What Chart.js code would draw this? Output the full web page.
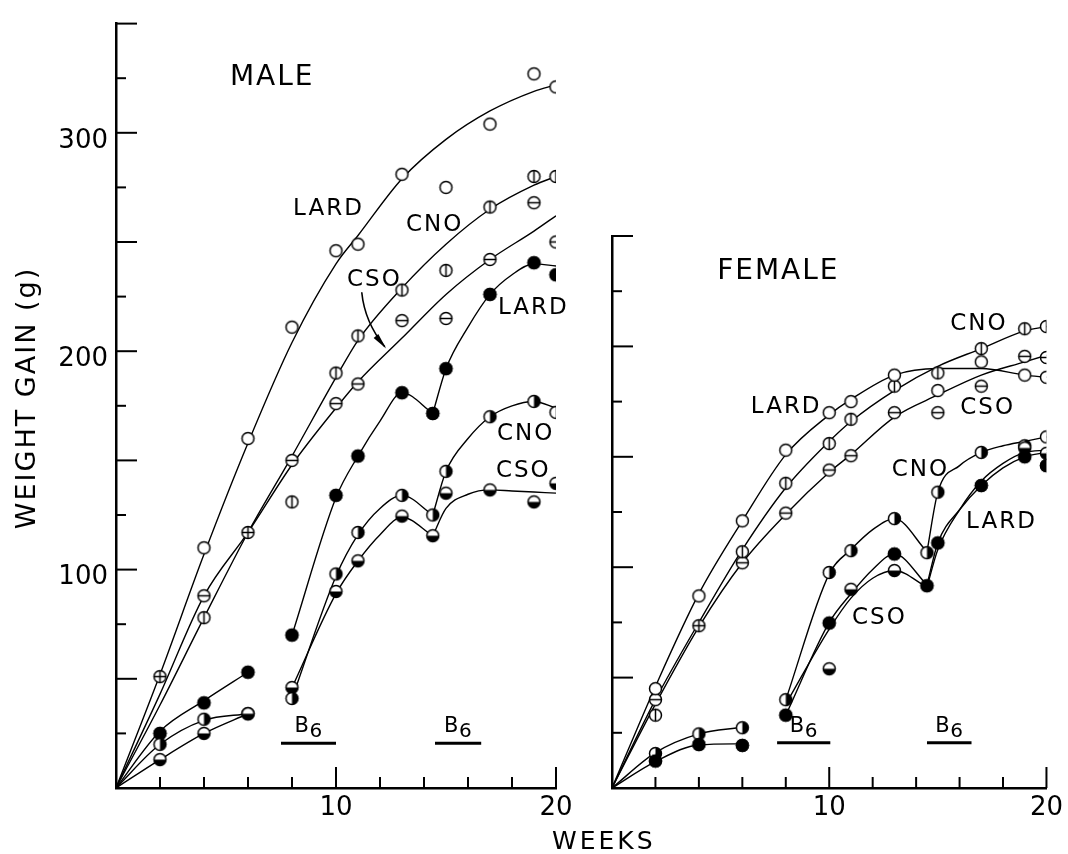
<!DOCTYPE html>
<html>
<head>
<meta charset="utf-8">
<script src="https://cdn.jsdelivr.net/npm/chart.js@4.4.0/dist/chart.umd.min.js"></script>
<style>
  html, body { margin: 0; padding: 0; background: #fff; }
  #wrap { position: relative; width: 1068px; height: 854px; }
  #male { position: absolute; left: 0; top: 0; }
  #female { position: absolute; left: 590px; top: 0; }
</style>
</head>
<body>
<div id="wrap">
  <canvas id="male" width="1068" height="854"></canvas>
  <canvas id="female" width="478" height="854"></canvas>
</div>
<script>
// tick labels
var xTickLabels = ['10', '20'];
var yTickLabels = ['100', '200', '300'];

// ---- MALE ----
// first period, open markers (weeks 2..20)
var m1Weeks = [2, 4, 6, 8, 10, 11, 13, 15, 17, 19, 20];
var m1Lard = [null, 110, 160, 211, 246, 249, 281, 275, 304, 327, 321];
var m1Cno  = [null, 78, null, 131, 190, 207, 228, 237, 266, 280, 280];
var m1Cso  = [null, 88, null, 150, 176, 185, 214, 215, 242, 268, 250];
var m1SharedWeeks = [2, 6];
var m1Shared = [51, 117];
var m1CurveWeeks = [0, 2, 4, 6, 8, 10, 11, 13, 15, 17, 19, 20];
var m1LardCurve = [0, 52, 107, 158, 204, 240, 253, 279, 297, 310, 319, 322];
var m1CnoCurve  = [0, 38, 78, 117, 152, 188, 205, 229, 249, 265, 276, 280];
var m1CsoCurve  = [0, 43, 88, 117, 148, 174, 186, 206, 226, 242, 255, 262];

// deficient period, weeks 2..6
var m0Weeks = [2, 4, 6];
var m0Lard = [25, 39, 53];
var m0Cno  = [20, 31.5, 34];
var m0Cso  = [13, 25, 34];
var m0CurveWeeks = [0, 2, 4, 6];
var m0LardCurve = [0, 26, 40, 53];
var m0CnoCurve  = [0, 20, 31, 34];
var m0CsoCurve  = [0, 13, 25, 34];

// second period, weeks 8..20
var m2Weeks = [8, 10, 11, 13, 14.4, 15, 17, 19, 20];
var m2Lard = [70, 134, 152, 181, 171.5, 192, 226, 240.5, 235];
var m2Cno  = [41, 98, 117, 134, 125, 145, 170, 177, 172];
var m2Cso  = [46, 90, 104, 124.5, 115.5, 135, 136.5, 131, 139.5];
var m2aWeeks = [8, 10, 11, 12, 13, 14.4];
var m2LardA = [70, 133, 152, 168, 181, 171.5];
var m2CnoA  = [41, 97, 116, 128, 134, 125];
var m2CsoA  = [46, 89, 104, 116, 124, 115.5];
var m2bWeeks = [14.4, 15, 16, 17, 18, 19, 20];
var m2LardB = [171.5, 192, 211, 226, 235, 240, 239];
var m2CnoB  = [125, 145, 160, 170, 175, 177, 174];
var m2CsoB  = [115.5, 128, 134.5, 136.5, 136, 135.5, 135];

// ---- FEMALE ----
var f1Weeks = [2, 4, 6, 8, 10, 11, 13, 15, 17, 19, 20];
var f1Lard = [45, 87, 121, 153, 170, 175, 187, 180, 193, 187, 186];
var f1Cno  = [33, null, 107, 138, 156, 167, 182, 188, 199, 208, 209];
var f1Cso  = [40, null, 102, 124.5, 144, 150.5, 170, 170, 182, 195.5, 195];
var f1SharedWeeks = [4];
var f1Shared = [73.5];
var f1CurveWeeks = [0, 2, 4, 6, 8, 10, 11, 13, 15, 17, 19, 20];
var f1LardCurve = [0, 46, 88, 121, 151, 169, 176, 187, 190, 190, 187, 186];
var f1CnoCurve  = [0, 40, 75, 108, 136, 157, 166, 180, 191, 199, 207, 209];
var f1CsoCurve  = [0, 38, 73, 102, 124, 143, 151, 168, 178, 187, 193, 196];

var f0Weeks = [2, 4, 6];
var f0Cno  = [15.6, 24.5, 27.3];
var f0Lard = [12.2, 19.7, 19.3];
var f0CurveWeeks = [0, 2, 4, 6];
var f0CnoCurve  = [0, 16, 24.5, 27.5];
var f0LardCurve = [0, 12, 19.5, 20];

var f2Weeks = [8, 10, 11, 13, 14.5, 15, 17, 19, 20];
var f2Cno  = [40, 97.6, 107.5, 122, 106.6, 134, 152, 155, 159];
var f2Lard = [33, 74.7, null, 106, 91.6, 111, 137, 150, 146];
var f2Cso  = [null, 54, 90, 98.5, null, null, null, 154, 151.6];
var f2aWeeks = [8, 10, 11, 12, 13, 14.5];
var f2CnoA  = [40, 97, 108, 117, 122, 107];
var f2LardA = [33, 75, 88, 99, 106, 92];
var f2CsoA  = [38, 72, 86, 95, 98.5, 91];
var f2bWeeks = [14.5, 15, 16, 17, 18, 19, 20];
var f2CnoB  = [107, 134, 146, 152, 155, 157, 159];
var f2LardB = [92, 111, 126, 137, 145, 150, 152];
var f2CsoB  = [91, 108, 126, 139, 147, 152, 153];

// B6 supplement periods (weeks)
var b6Male = [[7.5, 10], [14.5, 16.6]];
var b6Female = [[7.6, 10.05], [14.5, 16.55]];
var b6Level = 20.5;

var FONT = 'DejaVu Sans';

function makeMarker(kind) {
  var c = document.createElement('canvas');
  c.width = 17; c.height = 17;
  var g = c.getContext('2d');
  var cx = 8.5, cy = 8.5, r = 6;
  g.lineWidth = 1.5;
  g.strokeStyle = '#000';
  g.fillStyle = '#fff';
  g.beginPath(); g.arc(cx, cy, r, 0, Math.PI * 2); g.fill();
  g.fillStyle = '#000';
  if (kind == 'filled') { g.beginPath(); g.arc(cx, cy, r + 0.8, 0, Math.PI * 2); g.fill(); }
  if (kind == 'halfR') { g.beginPath(); g.arc(cx, cy, r, -Math.PI / 2, Math.PI / 2); g.closePath(); g.fill(); }
  if (kind == 'halfB') { g.beginPath(); g.arc(cx, cy, r, 0, Math.PI); g.closePath(); g.fill(); }
  g.beginPath(); g.arc(cx, cy, r, 0, Math.PI * 2); g.stroke();
  if (kind == 'vline' || kind == 'cross') { g.beginPath(); g.moveTo(cx, cy - r); g.lineTo(cx, cy + r); g.stroke(); }
  if (kind == 'hline' || kind == 'cross') { g.beginPath(); g.moveTo(cx - r, cy); g.lineTo(cx + r, cy); g.stroke(); }
  return c;
}
var markers = {};
['open', 'vline', 'hline', 'cross', 'filled', 'halfR', 'halfB'].forEach(function(k) { markers[k] = makeMarker(k); });

function pts(weeks, vals) {
  var out = [];
  for (var i = 0; i < weeks.length; i++) {
    if (vals[i] !== null) out.push({x: weeks[i], y: vals[i]});
  }
  return out;
}
function curve(weeks, vals) {
  return { data: pts(weeks, vals), showLine: true, borderColor: '#000', borderWidth: 1.4,
           pointRadius: 0, fill: false, cubicInterpolationMode: 'monotone', order: 2 };
}
function marks(weeks, vals, kind) {
  return { data: pts(weeks, vals), pointStyle: markers[kind], pointRadius: 7, showLine: false, order: 1 };
}
function b6bars(list) {
  return list.map(function(p) {
    return { data: [{x: p[0], y: b6Level}, {x: p[1], y: b6Level}], showLine: true,
             borderColor: '#000', borderWidth: 3, pointRadius: 0, order: 2 };
  });
}

// inward tick marks
var tickMarks = {
  id: 'tickMarks',
  afterDraw: function(chart) {
    var ctx = chart.ctx, xs = chart.scales.x, ys = chart.scales.y, a = chart.chartArea;
    ctx.save();
    ctx.strokeStyle = '#000';
    ctx.lineWidth = 2;
    for (var v = 25; v <= ys.max; v += 25) {
      var py = ys.getPixelForValue(v);
      var len = v % 50 === 0 ? 21 : 10;
      ctx.beginPath(); ctx.moveTo(a.left, py); ctx.lineTo(a.left + len, py); ctx.stroke();
    }
    for (var w = 2; w <= xs.max; w += 2) {
      var px = xs.getPixelForValue(w);
      var l2 = w % 10 === 0 ? 21 : 11;
      ctx.beginPath(); ctx.moveTo(px, a.bottom); ctx.lineTo(px, a.bottom - l2); ctx.stroke();
    }
    ctx.restore();
  }
};

function notesPlugin(notes, bars, extra) {
  return {
    id: 'notes',
    afterDraw: function(chart) {
      var ctx = chart.ctx, xs = chart.scales.x, ys = chart.scales.y;
      ctx.save();
      ctx.fillStyle = '#000';
      ctx.textBaseline = 'alphabetic';
      ctx.textAlign = 'left';
      ctx.letterSpacing = '2px';
      notes.forEach(function(n) {
        ctx.font = n.size + 'px "' + FONT + '"';
        ctx.fillText(n.text, xs.getPixelForValue(n.x), ys.getPixelForValue(n.y));
      });
      // B6 labels over the supplement bars
      ctx.letterSpacing = '0px';
      bars.forEach(function(p) {
        var cx = (xs.getPixelForValue(p[0]) + xs.getPixelForValue(p[1])) / 2;
        var by = ys.getPixelForValue(b6Level);
        ctx.font = '21px "' + FONT + '"';
        ctx.fillText('B', cx - 14, by - 11);
        ctx.font = '20px "' + FONT + '"';
        ctx.fillText('6', cx + 1, by - 6);
      });
      if (extra) extra(chart, ctx, xs, ys);
      ctx.restore();
    }
  };
}

function scalesFor(ymax, yWidth, showY) {
  return {
    x: {
      type: 'linear', min: 0, max: 20,
      grid: { display: false, drawTicks: false },
      border: { color: '#000', width: 2.5 },
      ticks: {
        stepSize: 2, autoSkip: false, maxRotation: 0, padding: 5, color: '#000',
        font: { family: FONT, size: 26 },
        callback: function(v) { return xTickLabels.indexOf(String(v)) >= 0 ? String(v) : ''; }
      },
      afterFit: function(s) { s.height = 66; }
    },
    y: {
      type: 'linear', min: 0, max: ymax,
      grid: { display: false, drawTicks: false },
      border: { color: '#000', width: 2.5 },
      ticks: {
        stepSize: 25, autoSkip: false, padding: 8, labelOffset: 8, color: '#000',
        font: { family: FONT, size: 26 },
        callback: function(v) { return showY && yTickLabels.indexOf(String(v)) >= 0 ? String(v) : ''; }
      },
      afterFit: function(s) { s.width = yWidth; }
    }
  };
}

var maleNotes = [
  { text: 'MALE', x: 5.18, y: 322, size: 28 },
  { text: 'LARD', x: 8.05, y: 262.5, size: 23 },
  { text: 'CNO', x: 13.18, y: 255, size: 23 },
  { text: 'CSO', x: 10.5, y: 230, size: 23 },
  { text: 'LARD', x: 17.36, y: 217, size: 23 },
  { text: 'CNO', x: 17.32, y: 159.4, size: 23 },
  { text: 'CSO', x: 17.27, y: 142.2, size: 23 }
];
var femaleNotes = [
  { text: 'FEMALE', x: 4.84, y: 230.5, size: 28 },
  { text: 'LARD', x: 6.39, y: 169.8, size: 23 },
  { text: 'CNO', x: 15.57, y: 207.4, size: 23 },
  { text: 'CSO', x: 16.03, y: 169.4, size: 23 },
  { text: 'CNO', x: 12.88, y: 141.3, size: 23 },
  { text: 'LARD', x: 16.3, y: 117.8, size: 23 },
  { text: 'CSO', x: 11.05, y: 74.4, size: 23 }
];

// arrow from CSO label and the axis titles (male canvas spans the page)
function maleExtra(chart, ctx, xs, ys) {
  var x0 = xs.getPixelForValue(11.17), y0 = ys.getPixelForValue(227);
  var x1 = xs.getPixelForValue(12.22), y1 = ys.getPixelForValue(202);
  ctx.strokeStyle = '#000';
  ctx.lineWidth = 1.6;
  ctx.beginPath();
  ctx.moveTo(x0, y0);
  ctx.quadraticCurveTo(x0 + 3, y0 + 30, x1, y1);
  ctx.stroke();
  var ang = Math.atan2(y1 - (y0 + 30), x1 - (x0 + 3));
  ctx.beginPath();
  ctx.moveTo(x1 + 2 * Math.cos(ang), y1 + 2 * Math.sin(ang));
  ctx.lineTo(x1 - 14 * Math.cos(ang) + 3 * Math.sin(ang), y1 - 14 * Math.sin(ang) - 3 * Math.cos(ang));
  ctx.lineTo(x1 - 14 * Math.cos(ang) - 3 * Math.sin(ang), y1 - 14 * Math.sin(ang) + 3 * Math.cos(ang));
  ctx.closePath();
  ctx.fill();

  ctx.letterSpacing = '2px';
  ctx.font = '27px "' + FONT + '"';
  ctx.save();
  ctx.translate(35, 398);
  ctx.rotate(-Math.PI / 2);
  ctx.textAlign = 'center';
  ctx.fillText('WEIGHT GAIN (g)', 0, 0);
  ctx.restore();
  ctx.font = '25px "' + FONT + '"';
  ctx.letterSpacing = '3px';
  ctx.textAlign = 'left';
  ctx.fillText('WEEKS', 552, 849);
}

var baseOptions = function(pad, ymax, yWidth, showY) {
  return {
    responsive: false,
    animation: false,
    layout: { padding: pad },
    plugins: { legend: { display: false }, tooltip: { enabled: false } },
    scales: scalesFor(ymax, yWidth, showY)
  };
};

new Chart(document.getElementById('male'), {
  type: 'scatter',
  data: {
    datasets: [
      marks(m1SharedWeeks, m1Shared, 'cross'),
      marks(m1Weeks, m1Lard, 'open'),
      marks(m1Weeks, m1Cno, 'vline'),
      marks(m1Weeks, m1Cso, 'hline'),
      marks(m0Weeks, m0Cso, 'halfB'),
      marks(m0Weeks, m0Cno, 'halfR'),
      marks(m0Weeks, m0Lard, 'filled'),
      marks(m2Weeks, m2Lard, 'filled'),
      marks(m2Weeks, m2Cno, 'halfR'),
      marks(m2Weeks, m2Cso, 'halfB'),
      curve(m1CurveWeeks, m1LardCurve),
      curve(m1CurveWeeks, m1CnoCurve),
      curve(m1CurveWeeks, m1CsoCurve),
      curve(m0CurveWeeks, m0LardCurve),
      curve(m0CurveWeeks, m0CnoCurve),
      curve(m0CurveWeeks, m0CsoCurve),
      curve(m2aWeeks, m2LardA),
      curve(m2aWeeks, m2CnoA),
      curve(m2aWeeks, m2CsoA),
      curve(m2bWeeks, m2LardB),
      curve(m2bWeeks, m2CnoB),
      curve(m2bWeeks, m2CsoB)
    ].concat(b6bars(b6Male))
  },
  options: baseOptions({ left: 0, top: 14, right: 1068 - 556, bottom: 0 }, 350, 116, true),
  plugins: [tickMarks, notesPlugin(maleNotes, b6Male, maleExtra)]
});

new Chart(document.getElementById('female'), {
  type: 'scatter',
  data: {
    datasets: [
      marks(f1SharedWeeks, f1Shared, 'cross'),
      marks(f1Weeks, f1Lard, 'open'),
      marks(f1Weeks, f1Cno, 'vline'),
      marks(f1Weeks, f1Cso, 'hline'),
      marks(f0Weeks, f0Lard, 'filled'),
      marks(f0Weeks, f0Cno, 'halfR'),
      marks(f2Weeks, f2Lard, 'filled'),
      marks(f2Weeks, f2Cso, 'halfB'),
      marks(f2Weeks, f2Cno, 'halfR'),
      curve(f1CurveWeeks, f1LardCurve),
      curve(f1CurveWeeks, f1CnoCurve),
      curve(f1CurveWeeks, f1CsoCurve),
      curve(f0CurveWeeks, f0CnoCurve),
      curve(f0CurveWeeks, f0LardCurve),
      curve(f2aWeeks, f2CnoA),
      curve(f2aWeeks, f2LardA),
      curve(f2aWeeks, f2CsoA),
      curve(f2bWeeks, f2CnoB),
      curve(f2bWeeks, f2LardB),
      curve(f2bWeeks, f2CsoB)
    ].concat(b6bars(b6Female))
  },
  options: baseOptions({ left: 0, top: 236, right: 18, bottom: 0 }, 250, 22, false),
  plugins: [tickMarks, notesPlugin(femaleNotes, b6Female, null)]
});
</script>
</body>
</html>
